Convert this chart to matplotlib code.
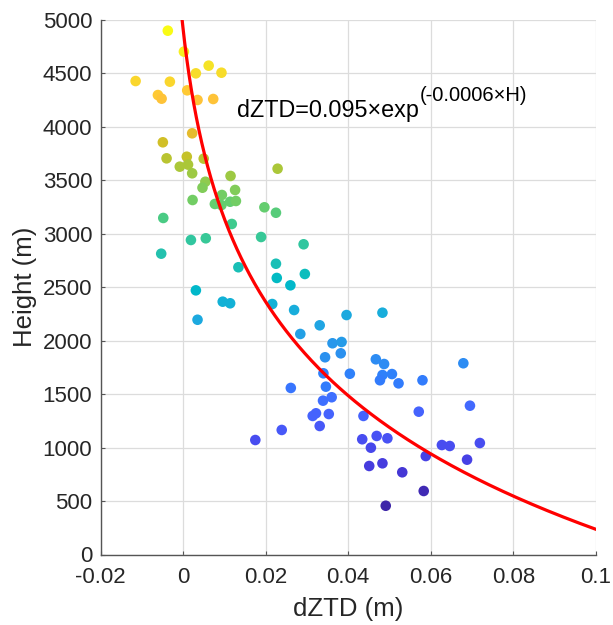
import numpy as np
import matplotlib
matplotlib.use("Agg")
import matplotlib.pyplot as plt
from matplotlib.colors import ListedColormap

# ---- data ----
dztd = [-0.0037, 0.0002, 0.0062, 0.0031, 0.0093, -0.0115, -0.0032, 0.0010, -0.0061, -0.0052,
        0.0035, 0.0073, 0.0022, -0.0049, -0.0040, 0.0009, 0.0050, -0.0008, 0.0012, 0.0022,
        0.0229, 0.0115, 0.0126, 0.0054, 0.0047, 0.0094, 0.0023, 0.0077, 0.0093, 0.0114,
        0.0128, 0.0197, 0.0225, -0.0048, 0.0118, 0.0019, 0.0055, 0.0189, 0.0292, -0.0053,
        0.0225, 0.0134, 0.0227, 0.0295, 0.0260, 0.0031, 0.0216, 0.0096, 0.0114, 0.0269,
        0.0035, 0.0396, 0.0483, 0.0331, 0.0284, 0.0362, 0.0384, 0.0382, 0.0344, 0.0467,
        0.0487, 0.0679, 0.0340, 0.0404, 0.0483, 0.0506, 0.0477, 0.0522, 0.0580, 0.0346,
        0.0261, 0.0360, 0.0339, 0.0695, 0.0322, 0.0314, 0.0353, 0.0571, 0.0437, 0.0331,
        0.0239, 0.0175, 0.0434, 0.0469, 0.0495, 0.0455, 0.0627, 0.0646, 0.0719, 0.0588,
        0.0451, 0.0483, 0.0531, 0.0688, 0.0583, 0.0491]
height = [4900, 4704, 4573, 4501, 4507, 4429, 4423, 4342, 4298, 4264,
          4252, 4261, 3940, 3856, 3706, 3721, 3703, 3628, 3647, 3566,
          3609, 3541, 3410, 3487, 3431, 3363, 3316, 3279, 3269, 3300,
          3307, 3248, 3197, 3148, 3092, 2942, 2958, 2970, 2902, 2814,
          2720, 2687, 2587, 2624, 2518, 2471, 2343, 2365, 2350, 2287,
          2196, 2240, 2262, 2144, 2063, 1976, 1988, 1882, 1845, 1826,
          1782, 1789, 1695, 1691, 1679, 1688, 1630, 1601, 1630, 1570,
          1558, 1471, 1439, 1392, 1321, 1296, 1314, 1336, 1296, 1202,
          1165, 1071, 1078, 1109, 1087, 999, 1024, 1015, 1043, 921,
          828, 853, 769, 887, 594, 456]

# fitted curve parameters (as drawn in the reference)
fit_a = 0.1225
fit_b = 0.000686
fit_c = -0.0042

xticks = [-0.02, 0, 0.02, 0.04, 0.06, 0.08, 0.1]
xticklabels = ["-0.02", "0", "0.02", "0.04", "0.06", "0.08", "0.1"]
yticks = [0, 500, 1000, 1500, 2000, 2500, 3000, 3500, 4000, 4500, 5000]

eq_main = "dZTD=0.095×exp"
eq_sup = "(-0.0006×H)"

# ---- parula-like colormap ----
parula_rgb = [
    (0.2422, 0.1504, 0.6603), (0.2504, 0.1650, 0.7076), (0.2578, 0.1818, 0.7511), (0.2647, 0.1978, 0.7952),
    (0.2706, 0.2147, 0.8364), (0.2751, 0.2342, 0.8710), (0.2783, 0.2559, 0.8991), (0.2803, 0.2782, 0.9221),
    (0.2813, 0.3006, 0.9414), (0.2810, 0.3228, 0.9579), (0.2795, 0.3447, 0.9717), (0.2760, 0.3667, 0.9829),
    (0.2699, 0.3892, 0.9906), (0.2602, 0.4123, 0.9952), (0.2440, 0.4358, 0.9988), (0.2206, 0.4603, 0.9973),
    (0.1963, 0.4847, 0.9892), (0.1834, 0.5074, 0.9798), (0.1786, 0.5289, 0.9682), (0.1764, 0.5499, 0.9520),
    (0.1687, 0.5703, 0.9359), (0.1540, 0.5902, 0.9218), (0.1460, 0.6091, 0.9079), (0.1380, 0.6276, 0.8973),
    (0.1248, 0.6459, 0.8883), (0.1113, 0.6635, 0.8763), (0.0952, 0.6798, 0.8598), (0.0689, 0.6948, 0.8394),
    (0.0297, 0.7082, 0.8163), (0.0036, 0.7203, 0.7917), (0.0067, 0.7312, 0.7660), (0.0433, 0.7411, 0.7394),
    (0.0964, 0.7500, 0.7120), (0.1408, 0.7584, 0.6842), (0.1717, 0.7670, 0.6554), (0.1938, 0.7758, 0.6251),
    (0.2161, 0.7843, 0.5923), (0.2470, 0.7918, 0.5567), (0.2906, 0.7973, 0.5188), (0.3406, 0.8008, 0.4789),
    (0.3909, 0.8029, 0.4354), (0.4456, 0.8024, 0.3909), (0.5044, 0.7993, 0.3480), (0.5616, 0.7942, 0.3045),
    (0.6174, 0.7876, 0.2612), (0.6720, 0.7793, 0.2227), (0.7242, 0.7698, 0.1910), (0.7738, 0.7598, 0.1646),
    (0.8203, 0.7498, 0.1535), (0.8634, 0.7406, 0.1596), (0.9035, 0.7330, 0.1774), (0.9393, 0.7288, 0.2100),
    (0.9728, 0.7298, 0.2394), (0.9956, 0.7434, 0.2371), (0.9970, 0.7659, 0.2199), (0.9952, 0.7893, 0.2028),
    (0.9892, 0.8136, 0.1885), (0.9786, 0.8386, 0.1766), (0.9676, 0.8639, 0.1643), (0.9610, 0.8890, 0.1537),
    (0.9597, 0.9135, 0.1423), (0.9628, 0.9373, 0.1265), (0.9691, 0.9606, 0.1064), (0.9769, 0.9839, 0.0805)]
parula = ListedColormap(parula_rgb, name="parula")

plt.rcParams['font.family'] = ['Liberation Sans', 'DejaVu Sans']

fig = plt.figure(figsize=(6.13, 6.25), dpi=100)
ax = fig.add_axes([0.164, 0.1128, 0.808, 0.8552])

txtc = '#262626'
ax.scatter(dztd, height, c=height, cmap=parula, vmin=min(height), vmax=max(height),
           s=58, edgecolors='none', zorder=3)

H = np.linspace(0, 5000, 500)
ax.plot(fit_a * np.exp(-fit_b * H) + fit_c, H, color='red', lw=2.3, zorder=4)

ax.set_xlim(-0.02, 0.1)
ax.set_ylim(0, 5000)
ax.set_xticks(xticks)
ax.set_xticklabels(xticklabels)
ax.set_yticks(yticks)
ax.grid(True, color='#dcdcdc', lw=0.9)
ax.set_axisbelow(True)
for s in ['top', 'right']:
    ax.spines[s].set_visible(False)
for s in ['left', 'bottom']:
    ax.spines[s].set_color('#555555')
    ax.spines[s].set_linewidth(1.0)
ax.tick_params(direction='in', length=3, width=0.8, color='#555555',
               labelsize=16, labelcolor=txtc)
ax.tick_params(axis='x', pad=9)
ax.tick_params(axis='y', pad=6)
ax.set_xlabel('dZTD (m)', fontsize=18.5, color=txtc)
ax.set_ylabel('Height (m)', fontsize=18.5, color=txtc)
ax.xaxis.set_label_coords(0.5, -0.080)
ax.yaxis.set_label_coords(-0.128, 0.5)

t = ax.text(0.013, 4095, eq_main, fontsize=16.8, color='black',
            ha='left', va='baseline', zorder=5)
ax.annotate(eq_sup, xy=(1, 0), xycoords=t, xytext=(0.6, 14.8),
            textcoords='offset points', fontsize=14.5, color='black',
            ha='left', va='baseline', zorder=5)

fig.savefig('out.png', dpi=100, facecolor='white')
